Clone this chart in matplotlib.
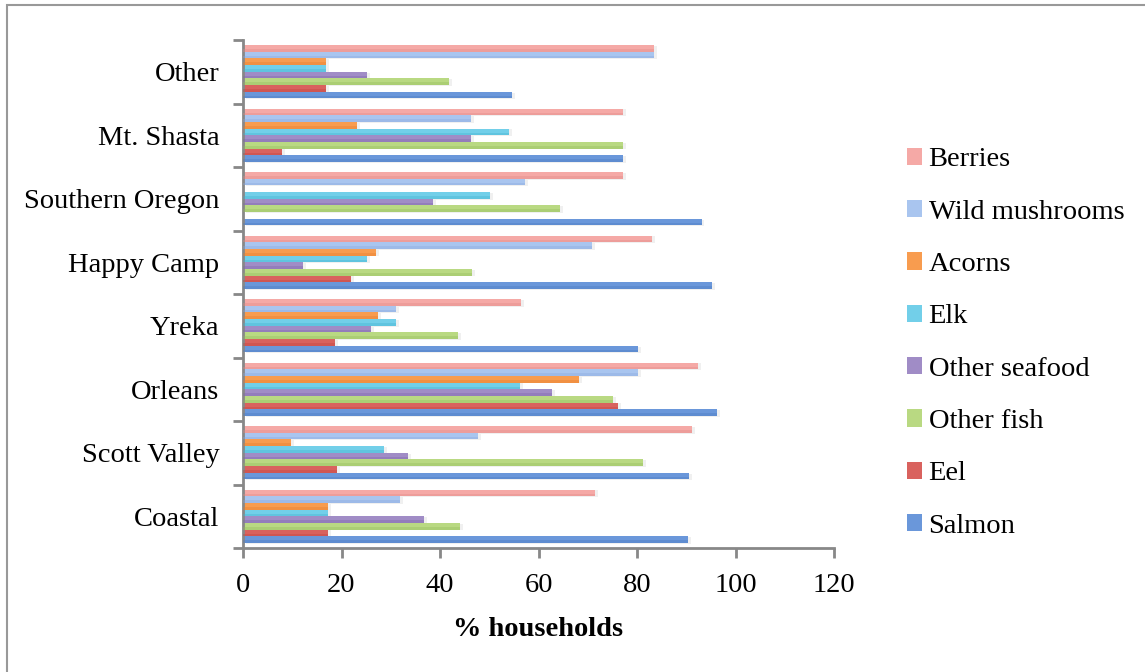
import matplotlib
matplotlib.use("Agg")
import matplotlib.pyplot as plt
import numpy as np
from matplotlib.patches import Rectangle, Patch

categories = ["Coastal", "Scott Valley", "Orleans", "Yreka", "Happy Camp",
              "Southern Oregon", "Mt. Shasta", "Other"]

salmon         = [90.4, 90.6, 96.3, 80.3, 95.3, 93.1, 77.2, 54.6]
eel            = [17.2, 19.1, 76.2, 18.6, 21.9, 0.0, 7.9, 16.8]
other_fish     = [44.1, 81.3, 75.2, 43.7, 46.5, 64.4, 77.2, 41.8]
other_seafood  = [36.7, 33.5, 62.8, 26.0, 12.1, 38.6, 46.3, 25.2]
elk            = [17.2, 28.6, 56.3, 31.1, 25.2, 50.2, 54.0, 16.8]
acorns         = [17.2, 9.7, 68.3, 27.4, 27.0, 0.0, 23.1, 16.8]
wild_mushrooms = [31.9, 47.7, 80.3, 31.1, 70.9, 57.3, 46.3, 83.5]
berries        = [71.5, 91.1, 92.3, 56.5, 83.1, 77.2, 77.2, 83.5]

series_names = ["Salmon", "Eel", "Other fish", "Other seafood", "Elk",
                "Acorns", "Wild mushrooms", "Berries"]
series_vals = [salmon, eel, other_fish, other_seafood, elk, acorns,
               wild_mushrooms, berries]
colors = ["#6a97da", "#d9625e", "#b9d982", "#a08cc6", "#72cfe9",
          "#f89c4f", "#a9c5ef", "#f5a9a6"]
dark = ["#4a78c0", "#c0413d", "#93bb5a", "#7b63a8", "#3fb0cf",
        "#e57c2a", "#88a7db", "#e08784"]

plt.rcParams['font.family'] = ['Liberation Serif', 'DejaVu Serif']

fig = plt.figure(figsize=(11.45, 6.72), dpi=100)
ax = fig.add_axes([243/1145, 1-548/672, (834-243)/1145, (548-40)/672])

n = len(series_names)
h = 0.105
y = np.arange(len(categories))
for j, (name, vals) in enumerate(zip(series_names, series_vals)):
    pos = y + (j - (n - 1) / 2) * h
    # subtle shadow
    ax.barh(pos - 0.012, vals, height=h, left=0.6, color="#000000", alpha=0.06,
            zorder=1)
    ax.barh(pos, vals, height=h, color=colors[j], zorder=2, label=name)
    ax.barh(pos - h * 0.3, vals, height=h * 0.4, color=dark[j], alpha=0.35,
            zorder=3, linewidth=0)

ax.set_xlim(0, 120)
ax.set_ylim(-0.5, len(categories) - 0.5)
ax.set_xticks(np.arange(0, 121, 20))
ax.set_yticks(np.arange(-0.5, len(categories), 1.0))
ax.set_yticklabels([])
ax.set_yticks(y, minor=True)
ax.set_yticklabels(categories, minor=True)
ax.tick_params(axis='y', which='major', length=7, width=2, color="#888888",
               direction='out')
ax.tick_params(axis='y', which='minor', length=0, pad=17, labelsize=20.5)
ax.tick_params(axis='x', length=7, width=2, color="#888888", labelsize=20.5,
               pad=11)
for s in ["top", "right"]:
    ax.spines[s].set_visible(False)
for s in ["left", "bottom"]:
    ax.spines[s].set_color("#888888")
    ax.spines[s].set_linewidth(2)

ax.set_xlabel("% households", fontsize=20.5, fontweight='bold', labelpad=14)

handles = [Patch(facecolor=colors[j], edgecolor='none') for j in range(n)][::-1]
labels = series_names[::-1]
fig.legend(handles, labels, loc='center left',
           bbox_to_anchor=(881/1145, 1-343/672), frameon=False, fontsize=20.5,
           handlelength=0.55, handleheight=0.55, handletextpad=0.22,
           labelspacing=0.96)

fig.patches.append(Rectangle((7/1145, -0.1), 1.2, 1 - 5/672 + 0.1,
                             transform=fig.transFigure, fill=False,
                             edgecolor="#999999", linewidth=1.5))

fig.savefig("out.png", dpi=100)
